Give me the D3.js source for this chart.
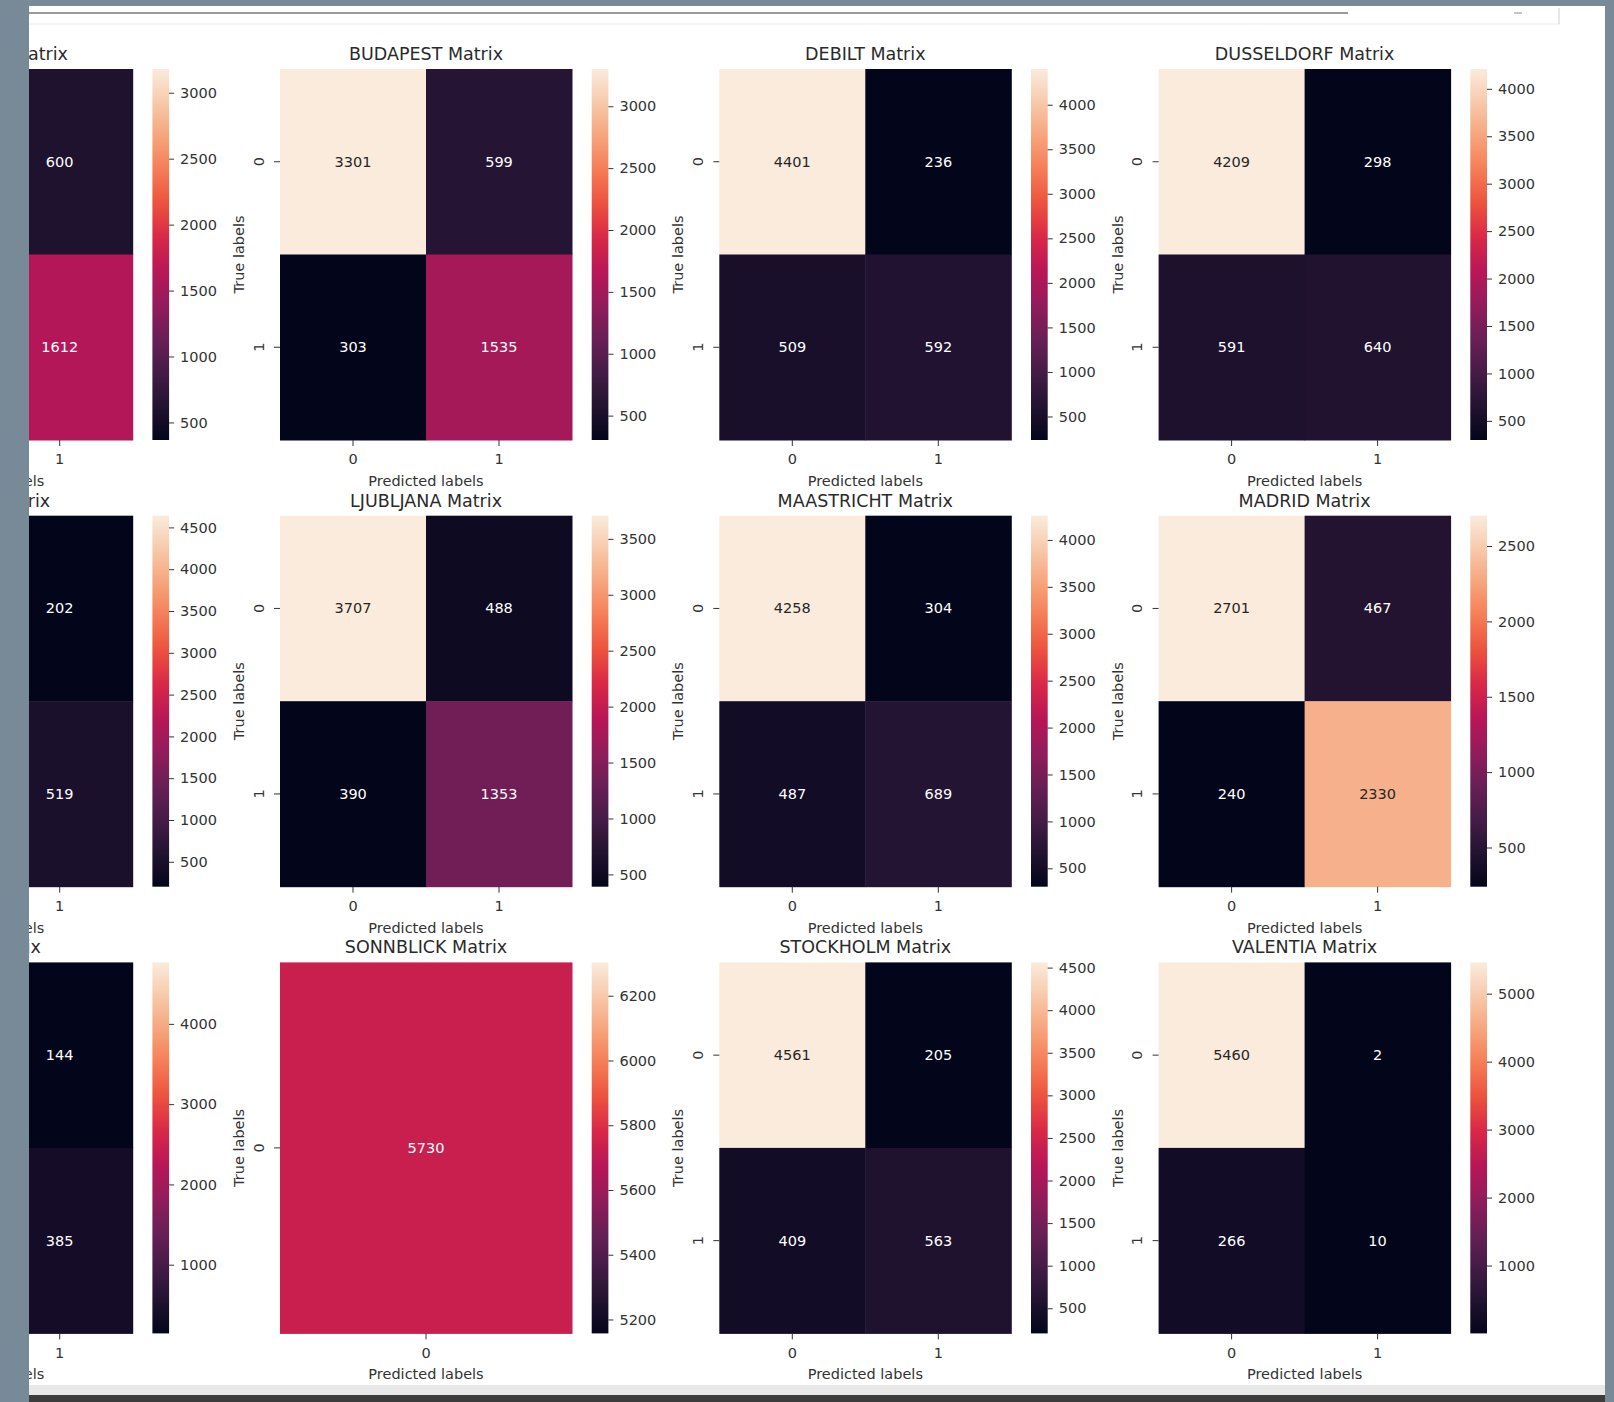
<!DOCTYPE html>
<html>
<head>
<meta charset="utf-8">
<script src="https://cdn.jsdelivr.net/npm/d3@7"></script>
<style>
  body { margin: 0; background: #ffffff; }
  svg { display: block; }
  text { font-family: "DejaVu Sans", "Liberation Sans", sans-serif; }
</style>
</head>
<body>
<svg id="chart" width="1614" height="1402"></svg>
<script>
// Station names, one confusion matrix per station (rows = true label, cols = predicted label)
const stations = [
  "HEATHROW", "BUDAPEST", "DEBILT", "DUSSELDORF",
  "KASSEL", "LJUBLJANA", "MAASTRICHT", "MADRID",
  "OSLO", "SONNBLICK", "STOCKHOLM", "VALENTIA"
];

const confusion = [
  [[3180, 600], [367, 1612]],
  [[3301, 599], [303, 1535]],
  [[4401, 236], [509, 592]],
  [[4209, 298], [591, 640]],
  [[4640, 202], [300, 519]],
  [[3707, 488], [390, 1353]],
  [[4258, 304], [487, 689]],
  [[2701, 467], [240, 2330]],
  [[4766, 144], [420, 385]],
  [[5730]],
  [[4561, 205], [409, 563]],
  [[5460, 2], [266, 10]]
];

// Colorbar tick labels for each panel
const colorbarTicks = [
  [500, 1000, 1500, 2000, 2500, 3000],
  [500, 1000, 1500, 2000, 2500, 3000],
  [500, 1000, 1500, 2000, 2500, 3000, 3500, 4000],
  [500, 1000, 1500, 2000, 2500, 3000, 3500, 4000],
  [500, 1000, 1500, 2000, 2500, 3000, 3500, 4000, 4500],
  [500, 1000, 1500, 2000, 2500, 3000, 3500],
  [500, 1000, 1500, 2000, 2500, 3000, 3500, 4000],
  [500, 1000, 1500, 2000, 2500],
  [1000, 2000, 3000, 4000],
  [5200, 5400, 5600, 5800, 6000, 6200],
  [500, 1000, 1500, 2000, 2500, 3000, 3500, 4000, 4500],
  [1000, 2000, 3000, 4000, 5000]
];

// "rocket" sequential colormap, sampled from dark to light
const rocketStops = [
  "#03051a", "#221331", "#451c47", "#691f55", "#921c5b", "#b91657",
  "#d92847", "#ed513e", "#f47c56", "#f6a47c", "#f7c9aa", "#faebdd"
];

const rocket = d3.piecewise(d3.interpolateRgb, rocketStops);

// Grid geometry
const layout = {
  nCols: 4,
  colStart: -159.3, colStep: 439.3,
  rowStart: 69, rowStep: 446.7,
  width: 292, height: 371,
  cbarOffset: 311.7, cbarWidth: 16.7,
  fontTick: 14.5, fontTitle: 17.5,
  ink: "#333333",
  frameLeft: 29
};

const svg = d3.select("#chart");
svg.append("rect").attr("width", 1614).attr("height", 1402).attr("fill", "#ffffff");

// Shared vertical gradient for all colorbars
const defs = svg.append("defs");
const grad = defs.append("linearGradient")
  .attr("id", "rocketGrad")
  .attr("x1", 0).attr("y1", 1).attr("x2", 0).attr("y2", 0);
d3.range(0, 101).forEach(i => {
  grad.append("stop").attr("offset", `${i}%`).attr("stop-color", rocket(i / 100));
});

function relLuminance(c) {
  const rgb = d3.rgb(c);
  const lin = v => {
    v /= 255;
    return v <= 0.03928 ? v / 12.92 : Math.pow((v + 0.055) / 1.055, 2.4);
  };
  return 0.2126 * lin(rgb.r) + 0.7152 * lin(rgb.g) + 0.0722 * lin(rgb.b);
}

const plots = svg.append("g");

stations.forEach((name, k) => {
  const matrix = confusion[k];
  const classes = d3.range(matrix.length).map(String);
  const col = k % layout.nCols, row = Math.floor(k / layout.nCols);
  const left = layout.colStart + col * layout.colStep;
  const top = layout.rowStart + row * layout.rowStep;
  const W = layout.width, H = layout.height;

  const x = d3.scaleBand().domain(classes).range([0, W]);
  const y = d3.scaleBand().domain(classes).range([0, H]);

  let [vmin, vmax] = d3.extent(matrix.flat());
  if (vmin === vmax) { vmin -= 0.1 * Math.abs(vmin); vmax += 0.1 * Math.abs(vmax); }
  const color = d3.scaleSequential(rocket).domain([vmin, vmax]);

  const g = plots.append("g").attr("transform", `translate(${left},${top})`);

  const cells = matrix.flatMap((r, i) => r.map((v, j) => ({ i, j, v })));

  g.selectAll("rect.cell").data(cells).join("rect")
    .attr("class", "cell")
    .attr("x", d => x(String(d.j)))
    .attr("y", d => y(String(d.i)))
    .attr("width", x.bandwidth() + 0.5)
    .attr("height", y.bandwidth() + 0.5)
    .attr("fill", d => color(d.v));

  g.selectAll("text.annot").data(cells).join("text")
    .attr("class", "annot")
    .attr("x", d => x(String(d.j)) + x.bandwidth() / 2)
    .attr("y", d => y(String(d.i)) + y.bandwidth() / 2)
    .attr("text-anchor", "middle")
    .attr("dominant-baseline", "central")
    .attr("font-size", layout.fontTick)
    .attr("fill", d => relLuminance(color(d.v)) > 0.408 ? "#262626" : "#ffffff")
    .text(d => d.v);

  // x axis (predicted labels)
  const xa = g.append("g").attr("transform", `translate(0,${H})`)
    .call(d3.axisBottom(x).tickSize(6).tickPadding(8));
  xa.select(".domain").remove();
  xa.selectAll(".tick line").attr("stroke", layout.ink);
  xa.selectAll(".tick text").attr("font-size", layout.fontTick).attr("fill", layout.ink)
    .attr("font-family", "DejaVu Sans");

  // y axis (true labels), tick labels rotated
  const ya = g.append("g").call(d3.axisLeft(y).tickSize(6));
  ya.select(".domain").remove();
  ya.selectAll(".tick line").attr("stroke", layout.ink);
  ya.selectAll(".tick text")
    .attr("x", null).attr("dy", null)
    .attr("text-anchor", "middle")
    .attr("transform", "translate(-16.5,0) rotate(-90)")
    .attr("font-size", layout.fontTick).attr("fill", layout.ink)
    .attr("font-family", "DejaVu Sans");

  g.append("text")
    .attr("x", W / 2).attr("y", H + 41)
    .attr("text-anchor", "middle").attr("dominant-baseline", "central")
    .attr("font-size", layout.fontTick).attr("fill", layout.ink)
    .text("Predicted labels");

  g.append("text")
    .attr("transform", `translate(-41,${H / 2}) rotate(-90)`)
    .attr("text-anchor", "middle").attr("dominant-baseline", "central")
    .attr("font-size", layout.fontTick).attr("fill", layout.ink)
    .text("True labels");

  g.append("text")
    .attr("x", W / 2).attr("y", -15)
    .attr("text-anchor", "middle").attr("dominant-baseline", "central")
    .attr("font-size", layout.fontTitle).attr("fill", "#2a2a2a")
    .text(`${name} Matrix`);

  // colorbar
  const cb = g.append("g").attr("transform", `translate(${layout.cbarOffset},0)`);
  cb.append("rect")
    .attr("width", layout.cbarWidth).attr("height", H)
    .attr("fill", "url(#rocketGrad)");
  const cy = d3.scaleLinear().domain([vmin, vmax]).range([H, 0]);
  const ca = cb.append("g").attr("transform", `translate(${layout.cbarWidth},0)`)
    .call(d3.axisRight(cy).tickValues(colorbarTicks[k]).tickFormat(d3.format("d"))
      .tickSize(5).tickPadding(6));
  ca.select(".domain").remove();
  ca.selectAll(".tick line").attr("stroke", layout.ink);
  ca.selectAll(".tick text").attr("font-size", layout.fontTick).attr("fill", layout.ink)
    .attr("font-family", "DejaVu Sans");
});

// Labels that fall entirely behind the left window edge are not drawn
plots.selectAll("text").each(function () {
  const box = this.getBoundingClientRect();
  if (box.right <= layout.frameLeft) d3.select(this).remove();
});

// Window frame around the figure
const frame = svg.append("g");
frame.append("rect").attr("x", 29).attr("y", 1385).attr("width", 1577).attr("height", 11).attr("fill", "#e8e8e8");
frame.append("rect").attr("x", 0).attr("y", 1395).attr("width", 1614).attr("height", 7).attr("fill", "#3c3c3c");
frame.append("rect").attr("x", 0).attr("y", 0).attr("width", 29).attr("height", 1402).attr("fill", "#788a98");
frame.append("rect").attr("x", 0).attr("y", 0).attr("width", 1614).attr("height", 6).attr("fill", "#788a98");
frame.append("rect").attr("x", 1605).attr("y", 0).attr("width", 9).attr("height", 1402).attr("fill", "#788a98");
frame.append("line").attr("x1", 29).attr("x2", 1348).attr("y1", 13).attr("y2", 13)
  .attr("stroke", "#9c9c9c").attr("stroke-width", 2);
frame.append("line").attr("x1", 29).attr("x2", 1560).attr("y1", 24).attr("y2", 24)
  .attr("stroke", "#ececec").attr("stroke-width", 1);
frame.append("line").attr("x1", 1514).attr("x2", 1522).attr("y1", 13).attr("y2", 13)
  .attr("stroke", "#b0b0b0").attr("stroke-width", 1.5);
frame.append("line").attr("x1", 1559).attr("x2", 1559).attr("y1", 8).attr("y2", 24)
  .attr("stroke", "#d0d0d0").attr("stroke-width", 1);
</script>
</body>
</html>
